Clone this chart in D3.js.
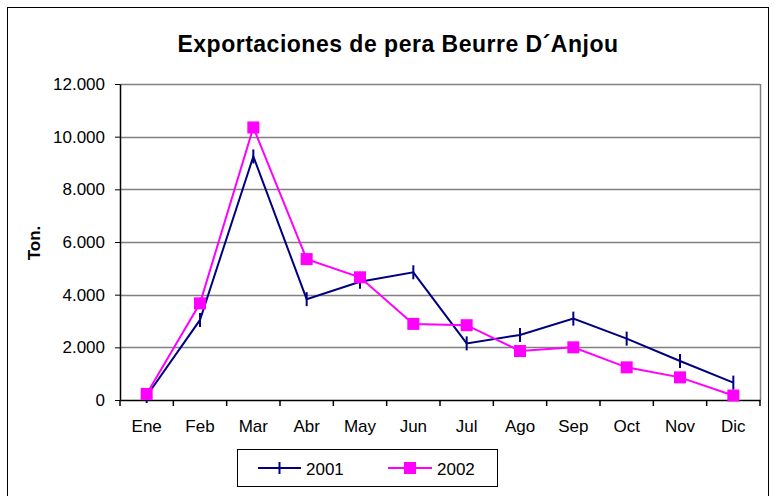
<!DOCTYPE html>
<meta charset="utf-8">
<script src="https://d3js.org/d3.v7.min.js"></script>
<style>
  body { margin: 0; background: #fff; }
  text { font-family: "Liberation Sans", Arial, sans-serif; }
</style>
<div id="chart"></div>
<script>

// data
var months = ["Ene", "Feb", "Mar", "Abr", "May", "Jun", "Jul", "Ago", "Sep", "Oct", "Nov", "Dic"];
var y2001 = [150, 3040, 9250, 3830, 4490, 4850, 2150, 2470, 3090, 2330, 1480, 660];
var y2002 = [230, 3670, 10350, 5350, 4660, 2890, 2840, 1860, 2000, 1240, 860, 170];
var yTicks = [0, 2000, 4000, 6000, 8000, 10000, 12000];

var W = 774, H = 496;
var margin = {top: 84, left: 120},
    width = 760 - margin.left,
    height = 400 - margin.top;

var svg = d3.select("#chart")
  .append("svg")
    .attr("width", W)
    .attr("height", H);

// outer frame
svg.append("rect")
    .attr("x", 7.5).attr("y", 7.5)
    .attr("width", 761).attr("height", 500)
    .style("fill", "none").style("stroke", "#000").style("stroke-width", 1);

svg.append("text")
    .attr("x", 398).attr("y", 52)
    .attr("text-anchor", "middle")
    .style("font-size", "23px").style("font-weight", "bold")
    .style("letter-spacing", "0.5px")
    .text("Exportaciones de pera Beurre D\u00B4Anjou");

var g = svg.append("g")
    .attr("transform", "translate(" + margin.left + "," + margin.top + ")");

var x = d3.scaleBand().domain(months).range([0, width]);
var y = d3.scaleLinear().domain([0, 12000]).range([height, 0]);

var fmt = function(d) { return d3.format(",")(d).replace(/,/g, "."); };

// gridlines
g.selectAll(".grid")
  .data(yTicks.filter(function(d) { return d > 0; }))
  .enter().append("line")
    .attr("x1", 0).attr("x2", width)
    .attr("y1", function(d) { return Math.round(y(d)) + 0.5; })
    .attr("y2", function(d) { return Math.round(y(d)) + 0.5; })
    .style("stroke", "#808080").style("stroke-width", 1.5);

// right edge of plot area
g.append("line")
    .attr("x1", width + 0.5).attr("x2", width + 0.5)
    .attr("y1", 0).attr("y2", height)
    .style("stroke", "#808080").style("stroke-width", 1.5);

// y axis
var yAxis = g.append("g")
    .call(d3.axisLeft(y).tickValues(yTicks).tickFormat(fmt).tickSize(5).tickSizeOuter(0));
yAxis.select(".domain").style("stroke", "#000").style("stroke-width", 1.5);
yAxis.selectAll("text").style("font-size", "17px").style("font-family", "Liberation Sans, Arial, sans-serif").attr("x", -15).attr("fill", "#000");

// x axis, ticks at category boundaries
var xAxis = g.append("g")
    .attr("transform", "translate(0," + height + ")")
    .call(d3.axisBottom(x).tickSize(0).tickPadding(20));
xAxis.select(".domain").style("stroke", "#000").style("stroke-width", 1.5);
xAxis.selectAll("text").style("font-size", "17px").style("font-family", "Liberation Sans, Arial, sans-serif").attr("fill", "#000");
xAxis.selectAll(".bound")
  .data(d3.range(months.length + 1))
  .enter().append("line")
    .attr("x1", function(i) { return i * x.bandwidth(); })
    .attr("x2", function(i) { return i * x.bandwidth(); })
    .attr("y1", 0).attr("y2", 6)
    .style("stroke", "#000").style("stroke-width", 1.5);

var cx = function(d, i) { return x(months[i]) + x.bandwidth() / 2; };
var line = d3.line().x(cx).y(function(d) { return y(d); });

// 2001
g.append("path").datum(y2001)
    .attr("d", line)
    .style("fill", "none").style("stroke", "#000080").style("stroke-width", 2);
g.selectAll(".m1").data(y2001).enter().append("line")
    .attr("x1", cx).attr("x2", cx)
    .attr("y1", function(d) { return y(d) - 7; })
    .attr("y2", function(d) { return y(d) + 7; })
    .style("stroke", "#000080").style("stroke-width", 2);

// 2002
g.append("path").datum(y2002)
    .attr("d", line)
    .style("fill", "none").style("stroke", "#ff00ff").style("stroke-width", 2);
g.selectAll(".m2").data(y2002).enter().append("rect")
    .attr("x", function(d, i) { return cx(d, i) - 6; })
    .attr("y", function(d) { return y(d) - 6; })
    .attr("width", 12).attr("height", 12)
    .style("fill", "#ff00ff");

// y label
svg.append("text")
    .attr("transform", "translate(40,243) rotate(-90)")
    .attr("text-anchor", "middle")
    .style("font-size", "17px").style("font-weight", "bold")
    .text("Ton.");

// legend
var lg = svg.append("g");
lg.append("rect")
    .attr("x", 237.5).attr("y", 449.5).attr("width", 260).attr("height", 37)
    .style("fill", "#fff").style("stroke", "#000").style("stroke-width", 1);
lg.append("line").attr("x1", 258).attr("x2", 301).attr("y1", 468).attr("y2", 468)
    .style("stroke", "#000080").style("stroke-width", 2);
lg.append("line").attr("x1", 279.5).attr("x2", 279.5).attr("y1", 462).attr("y2", 474)
    .style("stroke", "#000080").style("stroke-width", 2);
lg.append("text").attr("x", 306).attr("y", 475)
    .style("font-size", "17px").text("2001");
lg.append("line").attr("x1", 388).attr("x2", 432).attr("y1", 468).attr("y2", 468)
    .style("stroke", "#ff00ff").style("stroke-width", 2);
lg.append("rect").attr("x", 404).attr("y", 462).attr("width", 12).attr("height", 12)
    .style("fill", "#ff00ff");
lg.append("text").attr("x", 437).attr("y", 475)
    .style("font-size", "17px").text("2002");

</script>
